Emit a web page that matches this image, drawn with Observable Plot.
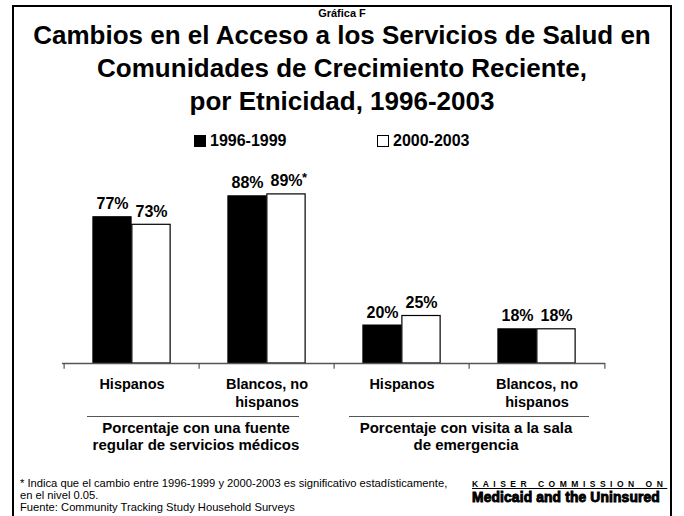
<!DOCTYPE html>
<html>
<head>
<meta charset="utf-8">
<script src="https://cdn.jsdelivr.net/npm/d3@7"></script>
<script src="https://cdn.jsdelivr.net/npm/@observablehq/plot@0.6"></script>
<style>
  html, body { margin: 0; padding: 0; background: #fff; }
  body { width: 684px; height: 516px; position: relative; overflow: hidden;
         font-family: "Liberation Sans", Arial, sans-serif; color: #000; }
  .abs { position: absolute; }
  .frame { left: 12px; top: 5px; width: 660px; height: 540px; border: 2px solid #000; box-sizing: border-box; }
  .center { text-align: center; font-weight: bold; }
  .leg { font-weight: bold; font-size: 16px; display: flex; align-items: center; }
  .sw { width: 12px; height: 12px; border: 1px solid #000; box-sizing: border-box; margin-right: 4px; }
  .grp { font-weight: bold; font-size: 15px; text-align: center; line-height: 17px; }
  .gline { height: 0; border-top: 1.5px solid #555; }
  .foot { font-size: 11.2px; line-height: 12px; left: 20px; white-space: nowrap; }
  #chart { left: 0; top: 0; }
</style>
</head>
<body>
<div class="abs frame"></div>
<div id="chart" class="abs"></div>
<div class="abs center" style="left:0;width:684px;top:7px;font-size:11px;line-height:12px;">Gráfica F</div>
<div class="abs center" id="title" style="left:0;width:684px;top:19px;font-size:26px;line-height:33px;"></div>
<div class="abs leg" id="leg1" style="left:194px;top:132px;"></div>
<div class="abs leg" id="leg2" style="left:377px;top:132px;"></div>
<div class="abs gline" style="left:87px;top:416px;width:212px;"></div>
<div class="abs gline" style="left:349px;top:416px;width:240px;"></div>
<div class="abs grp" id="g1" style="left:76px;width:240px;top:419px;"></div>
<div class="abs grp" id="g2" style="left:346px;width:240px;top:419px;"></div>
<div class="abs foot" style="top:477px;">* Indica que el cambio entre 1996-1999 y 2000-2003 es significativo estadísticamente,<br>en el nivel 0.05.<br>Fuente: Community Tracking Study Household Surveys</div>
<div class="abs" style="left:472px;top:479px;font-size:8.5px;font-weight:bold;letter-spacing:4.5px;text-decoration:underline;white-space:nowrap;">KAISER COMMISSION ON</div>
<div class="abs" style="left:472px;top:490px;font-size:13.8px;font-weight:bold;-webkit-text-stroke:0.9px #000;white-space:nowrap;letter-spacing:0.15px;">Medicaid and the Uninsured</div>
<script>
const titleLines = ["Cambios en el Acceso a los Servicios de Salud en", "Comunidades de Crecimiento Reciente,", "por Etnicidad, 1996-2003"];
const series = ["1996-1999", "2000-2003"];
const categories = ["Hispanos (fuente)", "Blancos (fuente)", "Hispanos (emergencia)", "Blancos (emergencia)"];
const categoryLabels = ["Hispanos", "Blancos, no\nhispanos", "Hispanos", "Blancos, no\nhispanos"];
const values1996 = [77, 88, 20, 18];
const values2000 = [73, 89, 25, 18];
const significant2000 = [false, true, false, false];
const groupLabels = ["Porcentaje con una fuente<br>regular de servicios médicos", "Porcentaje con visita a la sala<br>de emergencia"];

document.getElementById("title").innerHTML = titleLines.join("<br>");
document.getElementById("leg1").innerHTML = `<span class="sw" style="background:#000"></span>${series[0]}`;
document.getElementById("leg2").innerHTML = `<span class="sw" style="background:#fff"></span>${series[1]}`;
document.getElementById("g1").innerHTML = groupLabels[0];
document.getElementById("g2").innerHTML = groupLabels[1];

const rows = [];
categories.forEach((c, i) => {
  rows.push({cat: c, series: series[0], value: values1996[i], sig: false});
  rows.push({cat: c, series: series[1], value: values2000[i], sig: significant2000[i]});
});
const rowsA = rows.filter(d => d.series === series[0]);
const rowsB = rows.filter(d => d.series === series[1]);

const W = 684, mL = 62, mR = 79;
const band = (W - mL - mR) / categories.length;
const barW = 39;
const inOuter = band / 2 - barW;
const inInner = band / 2;
const font = "Liberation Sans, Arial, sans-serif";

const plot = Plot.plot({
  width: W,
  height: 516,
  marginLeft: mL,
  marginRight: mR,
  marginTop: 173,
  marginBottom: 153,
  x: {domain: categories, padding: 0, axis: null},
  y: {domain: [0, 100], axis: null},
  style: {fontFamily: font, background: "transparent"},
  marks: [
    Plot.barY(rowsA, {x: "cat", y: "value", fill: "#000", stroke: "#000", strokeWidth: 1, insetLeft: inOuter, insetRight: inInner}),
    Plot.barY(rowsB, {x: "cat", y: "value", fill: "#fff", stroke: "#000", strokeWidth: 1.2, insetLeft: inInner, insetRight: inOuter}),
    Plot.ruleY([0], {stroke: "#555", strokeWidth: 1.5}),
    Plot.ruleX(categories, {x: d => d, y1: 0, y2: -3, dx: -band / 2, stroke: "#555", strokeWidth: 1.2}),
    Plot.ruleX([categories[categories.length - 1]], {x: d => d, y1: 0, y2: -3, dx: band / 2, stroke: "#555", strokeWidth: 1.2}),
    Plot.text(rowsA, {x: "cat", y: "value", text: d => d.value + "%", dx: -barW / 2, dy: -8, lineAnchor: "bottom", fontSize: 16, fontWeight: "bold", fill: "#000"}),
    Plot.text(rowsB, {x: "cat", y: "value", text: d => d.value + "%", dx: barW / 2, dy: -8, lineAnchor: "bottom", fontSize: 16, fontWeight: "bold", fill: "#000"}),
    Plot.text(rowsB.filter(d => d.sig), {x: "cat", y: "value", text: () => "*", dx: barW / 2 + 18, dy: -12, lineAnchor: "bottom", fontSize: 13, fontWeight: "bold", fill: "#000"}),
    Plot.text(categories, {x: d => d, y: 0, text: (d, i) => categoryLabels[i], dy: 13, lineAnchor: "top", fontSize: 14.5, fontWeight: "bold", lineHeight: 1.22, fill: "#000"})
  ]
});
document.getElementById("chart").appendChild(plot);
</script>
</body>
</html>
